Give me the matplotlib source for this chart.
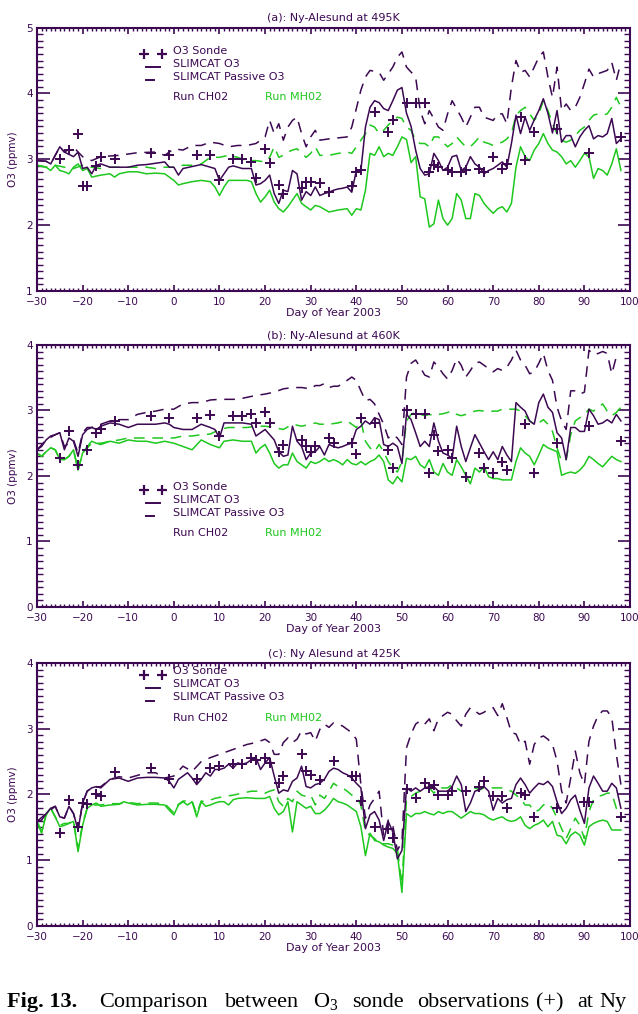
import matplotlib
matplotlib.use('Agg')
import matplotlib.pyplot as plt
from matplotlib.ticker import MultipleLocator

plt.rcParams['font.family'] = 'DejaVu Sans'
plt.rcParams['mathtext.fontset'] = 'custom'
plt.rcParams['mathtext.rm'] = 'Liberation Serif'

PURPLE = '#3c0852'
GREEN = '#1ec81e'
TAIL = list(range(32, 99))

#---------------------------------------------
# Panel (a): Ny-Alesund at 495K
#---------------------------------------------
a_ch_o3_day = [-30, -28, -27, -25, -24, -22, -21, -20, -19, -18, -17, -16, -14, -12, -10, -8, -6, -4, -2, -1,
               0, 1, 2, 4, 6, 8, 9, 10, 11, 12, 13, 15, 17, 18, 19, 20, 21, 22, 23, 24, 25, 26, 27, 28, 29,
               30, 31] + TAIL
a_ch_o3 = [2.98, 2.97, 2.93, 3.19, 3.11, 3.04, 3.11, 2.86, 2.88, 2.78, 2.91, 2.93, 2.88, 2.88, 2.88,
           2.91, 2.92, 2.94, 2.96, 2.88, 2.88, 2.76, 2.86, 2.89, 2.92, 2.88, 2.86, 2.68, 2.78, 2.88,
           2.9, 2.86, 2.86, 2.61, 2.63, 2.68, 2.76, 2.48, 2.33, 2.53, 2.51, 2.83, 2.78, 2.38, 2.51,
           2.45, 2.58,
           2.45, 2.48, 2.5, 2.53, 2.55, 2.56, 2.58, 2.5, 2.83, 2.83, 3.49, 3.79, 3.89, 3.86, 3.77,
           3.74, 3.89, 4.05, 4.09, 3.7, 3.5, 3.14, 2.86, 2.76, 2.78, 3.09, 2.98, 2.83, 2.88, 3.04,
           3.06, 2.83, 2.88, 3.04, 2.93, 2.88, 2.78, 2.83, 2.86, 2.91, 2.96, 2.88, 3.24, 3.67, 3.39,
           3.64, 3.44, 3.6, 3.74, 3.92, 3.7, 3.4, 3.74, 3.26, 3.36, 3.36, 3.19, 3.34, 3.44, 3.51,
           3.31, 3.36, 3.34, 3.39, 3.62, 3.24, 3.31]

a_ch_pas_day = [-30, -28, -27, -25, -24, -22, -21, -20, -18, -16, -12, -8, -4, -2, 0, 2, 4, 6, 8, 10, 12,
                14, 16, 18, 20, 21, 22, 23, 24, 25, 26, 27, 28, 29, 30, 31,
                32, 34, 38, 39, 41, 42, 43, 45, 46, 48, 49, 50, 51, 53, 54, 55, 56, 58, 59, 60, 61, 63,
                64, 66, 67, 68, 70, 71, 72, 73, 74, 75, 76, 77, 78, 80, 81, 82, 83, 84, 85, 86, 87, 88,
                89, 90, 91, 92, 93, 95, 96, 97, 98]
a_ch_pas = [2.98, 2.97, 2.93, 3.19, 3.11, 3.19, 3.11, 3.04, 2.98, 3.04, 3.06, 3.1, 3.11, 3.06, 3.16,
            3.14, 3.21, 3.21, 3.26, 3.24, 3.19, 3.21, 3.21, 3.24, 3.34, 3.59, 3.39, 3.54, 3.29, 3.49,
            3.59, 3.64, 3.39, 3.19, 3.34, 3.44,
            3.29, 3.31, 3.34, 3.49, 4.05, 4.25, 4.35, 4.32, 4.2, 4.4, 4.55, 4.63, 4.4, 4.25, 3.74,
            3.54, 3.74, 3.49, 3.44, 3.69, 3.89, 3.64, 3.49, 3.79, 3.79, 3.64, 3.59, 3.69, 3.69, 3.54,
            4.1, 4.5, 4.32, 4.35, 4.25, 4.55, 4.63, 4.25, 3.94, 4.4, 3.74, 3.84, 3.74, 3.79, 3.94,
            4.15, 4.37, 4.25, 4.3, 4.35, 4.47, 4.2, 4.47]

a_mh_o3_day = [-30, -28, -27, -26, -25, -24, -23, -22, -21, -20, -19, -18, -16, -14, -13, -12, -10, -8,
               -6, -4, -2, -1, 0, 1, 2, 4, 6, 8, 9, 10, 11, 12, 14, 16, 17, 18, 19, 20, 21, 22, 23, 24,
               25, 26, 27, 28, 29, 30, 31, 32, 34, 36, 38, 39, 40, 41] + list(range(42, 99))
a_mh_o3 = [2.91, 2.88, 2.83, 2.91, 2.83, 2.81, 2.78, 2.88, 2.93, 2.83, 2.86, 2.73, 2.76, 2.78, 2.73,
           2.78, 2.81, 2.81, 2.78, 2.79, 2.78, 2.73, 2.68, 2.61, 2.63, 2.66, 2.68, 2.66, 2.58, 2.45,
           2.58, 2.68, 2.68, 2.68, 2.66, 2.48, 2.35, 2.43, 2.53, 2.35, 2.25, 2.2, 2.28, 2.38, 2.48,
           2.33, 2.28, 2.23, 2.3, 2.28, 2.2, 2.23, 2.25, 2.15, 2.25, 2.23,
           2.53, 3.09, 3.06, 3.19, 3.04, 3.09, 3.06, 3.19, 3.34, 3.3, 2.95, 3.04, 2.43, 2.4, 1.97,
           2.02, 2.38, 2.1, 2.0, 2.1, 2.48, 2.38, 2.1, 2.1, 2.48, 2.45, 2.33, 2.25, 2.18, 2.25,
           2.28, 2.2, 2.33, 2.88, 3.19, 3.04, 2.98, 3.14, 3.24, 3.39, 3.24, 3.14, 3.11, 3.04, 2.93,
           2.98, 2.88, 2.98, 3.09, 3.04, 2.71, 2.86, 2.83, 2.76, 2.93, 3.16, 2.83]

a_mh_pas_day = [-30, -28, -26, -24, -22, -20, -18, -16, -14, -10, -6, -4, -2, 0, 2, 4, 6, 8, 10, 12, 14,
                16, 18, 20, 21, 22, 23, 24, 25, 26, 27, 28, 29, 30, 31, 32, 34, 36, 38, 39] + list(range(41, 99))
a_mh_pas = [2.91, 2.88, 2.91, 2.88, 2.86, 2.91, 2.88, 2.86, 2.88, 2.88, 2.88, 2.86, 2.88, 2.88, 2.91,
            2.91, 2.93, 3.03, 3.03, 3.06, 3.03, 2.98, 2.98, 2.96, 3.03, 3.19, 3.03, 3.06, 3.11, 3.14,
            3.16, 3.09, 3.03, 3.09, 3.19, 3.06, 3.06, 3.09, 3.11, 3.09,
            3.29, 3.39, 3.52, 3.49, 3.39, 3.44, 3.52, 3.59, 3.64, 3.62, 3.49, 3.44, 3.29, 3.24, 3.24,
            3.19, 3.34, 3.34, 3.26, 3.19, 3.24, 3.34, 3.26, 3.19, 3.19, 3.26, 3.34, 3.26, 3.24, 3.21,
            3.24, 3.26, 3.31, 3.39, 3.67, 3.74, 3.79, 3.69, 3.59, 3.69, 3.89, 3.74, 3.54, 3.39, 3.29,
            3.26, 3.29, 3.36, 3.44, 3.49, 3.59, 3.67, 3.69, 3.67, 3.69, 3.79, 3.94, 3.79]

a_sonde_day = [-25, -23, -21, -20, -19, -17, -16, -13, -5, -1, 5, 8, 10, 13, 15, 17, 18, 20, 21, 23, 24,
               28, 29, 30, 32, 34, 39, 40, 41, 44, 47, 48, 51, 53, 55, 56, 57, 58, 60, 61, 63, 64, 67,
               68, 70, 72, 73, 76, 77, 79, 84, 91, 98]
a_sonde = [3.0, 3.14, 3.39, 2.6, 2.6, 2.9, 3.03, 3.0, 3.1, 3.06, 3.06, 3.06, 2.68, 3.01, 3.01, 2.96,
           2.71, 3.16, 2.95, 2.61, 2.48, 2.56, 2.66, 2.65, 2.64, 2.5, 2.6, 2.81, 2.83, 3.72, 3.41,
           3.59, 3.85, 3.85, 3.85, 2.81, 2.91, 2.88, 2.83, 2.81, 2.81, 2.83, 2.86, 2.81, 3.04, 2.86,
           2.93, 3.64, 2.99, 3.41, 3.46, 3.1, 3.34]

#---------------------------------------------
# Panel (b): Ny-Alesund at 460K
#---------------------------------------------
b_ch_o3_day = list(range(-30, -15)) + [-14, -12, -10, -8, -6, -4, -2, -1, 0, 2, 4, 6, 8, 9, 10, 11, 13,
                                       15, 17, 18, 19, 20, 21, 22, 23, 24, 25, 26, 27, 28, 29, 30, 31] + TAIL
b_ch_o3 = [2.4, 2.45, 2.55, 2.61, 2.63, 2.66, 2.4, 2.58, 2.53, 2.3, 2.63, 2.71, 2.74, 2.71, 2.76,
           2.81, 2.79, 2.74, 2.79, 2.79, 2.79, 2.81, 2.79, 2.74, 2.71, 2.71, 2.79, 2.74, 2.71, 2.58,
           2.81, 2.81, 2.81, 2.79, 2.61, 2.66, 2.71, 2.63, 2.55, 2.37, 2.3, 2.32, 2.76, 2.53, 2.45,
           2.25, 2.35, 2.37,
           2.45, 2.32, 2.48, 2.45, 2.43, 2.45, 2.48, 2.5, 2.71, 2.76, 2.84, 2.79, 2.89, 2.86, 2.48,
           2.45, 2.5, 2.45, 2.19, 2.94, 2.86, 2.66, 2.45, 2.53, 2.45, 2.81, 2.53, 2.35, 2.32, 2.27,
           2.76, 2.45, 2.22, 2.43, 2.63, 2.5, 2.37, 2.25, 2.37, 2.25, 2.45, 2.32, 2.22, 3.12, 3.05,
           2.99, 2.84, 2.79, 3.12, 3.25, 3.05, 2.97, 2.66, 2.58, 2.25, 2.74, 2.74, 2.68, 2.68, 3.02,
           2.92, 2.79, 2.81, 2.86, 2.81, 2.94, 2.84]

b_ch_pas_day = [-30, -28, -26, -25, -24, -22, -21, -20, -19, -18, -16, -14, -12, -10, -8, -6, -4, -2, 0,
                2, 4, 6, 8, 10, 12, 14, 16, 18, 20, 22, 24, 26, 28, 30, 31] + TAIL
b_ch_pas = [2.4, 2.55, 2.63, 2.66, 2.45, 2.55, 2.35, 2.66, 2.74, 2.74, 2.79, 2.84, 2.86, 2.86, 2.94,
            2.97, 2.99, 3.02, 3.02, 3.1, 3.12, 3.12, 3.16, 3.17, 3.17, 3.17, 3.2, 3.23, 3.25, 3.28,
            3.33, 3.35, 3.35, 3.33, 3.38,
            3.38, 3.41, 3.35, 3.37, 3.37, 3.41, 3.46, 3.51, 3.46, 3.3, 3.15, 3.17, 3.1, 2.94, 2.79,
            2.58, 2.63, 2.58, 2.48, 3.51, 3.72, 3.77, 3.66, 3.54, 3.51, 3.74, 3.66, 3.56, 3.48, 3.61,
            3.79, 3.69, 3.51, 3.61, 3.72, 3.74, 3.69, 3.64, 3.59, 3.64, 3.61, 3.66, 3.77, 3.92, 3.77,
            3.69, 3.56, 3.59, 3.72, 3.87, 3.61, 3.46, 3.05, 2.84, 2.71, 3.3, 3.3, 3.25, 3.28, 3.92,
            3.85, 3.87, 3.9, 3.87, 3.56, 3.82, 3.85]

b_mh_o3_day = list(range(-30, -15)) + [-14, -12, -10, -8, -6, -4, -2, 0, 2, 4, 6, 8, 10, 11, 13, 15, 17,
                                       18, 19, 20, 21, 22, 23, 24, 25, 26, 27, 28, 29, 30, 31] + TAIL
b_mh_o3 = [2.35, 2.3, 2.37, 2.43, 2.4, 2.25, 2.25, 2.3, 2.4, 2.09, 2.35, 2.45, 2.53, 2.5, 2.48,
           2.53, 2.5, 2.55, 2.53, 2.53, 2.5, 2.53, 2.5, 2.45, 2.4, 2.55, 2.48, 2.43, 2.53, 2.55,
           2.53, 2.53, 2.35, 2.43, 2.48, 2.35, 2.19, 2.12, 2.17, 2.17, 2.35, 2.22, 2.17, 2.12, 2.22,
           2.19,
           2.22, 2.27, 2.22, 2.25, 2.22, 2.17, 2.25, 2.19, 2.17, 2.22, 2.17, 2.22, 2.25, 2.32, 2.22,
           1.94, 1.88, 1.99, 1.91, 2.27, 2.25, 2.3, 2.17, 2.12, 2.25, 2.06, 2.01, 2.19, 2.06, 2.01,
           2.25, 2.14, 2.01, 1.88, 2.12, 2.06, 2.14, 1.99, 1.96, 1.96, 1.94, 1.94, 1.94, 2.22, 2.43,
           2.35, 2.3, 2.17, 2.32, 2.48, 2.43, 2.4, 2.37, 2.01, 2.04, 2.06, 2.04, 2.09, 2.17, 2.3,
           2.25, 2.19, 2.14, 2.22, 2.3, 2.25, 2.22]

b_mh_pas_day = list(range(-30, -20)) + [-20, -18, -16, -14, -12, -10, -5, 0, 2, 4, 6, 8, 10, 12, 14, 16,
                                        18, 20, 22, 24, 26, 28, 30, 31] + TAIL
b_mh_pas = [2.35, 2.3, 2.37, 2.43, 2.4, 2.25, 2.25, 2.3, 2.4, 2.09, 2.35, 2.5, 2.5, 2.53, 2.55,
            2.58, 2.58, 2.58, 2.61, 2.61, 2.63, 2.64, 2.71, 2.74, 2.74, 2.74, 2.76, 2.76, 2.74, 2.71,
            2.79, 2.76, 2.79, 2.81,
            2.79, 2.79, 2.79, 2.8, 2.81, 2.83, 2.84, 2.79, 2.74, 2.84, 2.53, 2.43, 2.37, 2.48, 2.37,
            2.22, 2.12, 2.06, 2.22, 2.84, 2.94, 2.97, 2.94, 2.92, 2.94, 2.92, 2.94, 2.95, 2.97, 2.99,
            2.94, 2.92, 2.94, 2.97, 2.99, 3.0, 2.99, 2.98, 2.99, 2.99, 3.02, 3.02, 3.02, 3.02, 2.99,
            2.92, 2.84, 2.79, 2.81, 2.86, 2.79, 2.68, 2.43, 2.22, 2.25, 2.63, 2.84, 2.89, 2.94, 3.02,
            2.99, 3.05, 3.1, 2.99, 2.92, 2.97, 3.05]

b_sonde_day = [-25, -23, -21, -19, -17, -16, -13, -5, -1, 5, 8, 10, 13, 15, 17, 18, 20, 21, 23, 24, 28,
               29, 30, 31, 34, 35, 39, 40, 41, 44, 47, 48, 51, 53, 55, 56, 57, 58, 60, 61, 64, 67, 68,
               70, 72, 73, 77, 79, 84, 91, 98]
b_sonde = [2.28, 2.68, 2.17, 2.4, 2.66, 2.71, 2.84, 2.92, 2.88, 2.88, 2.93, 2.61, 2.92, 2.92, 2.94,
           2.81, 2.97, 2.81, 2.37, 2.48, 2.55, 2.45, 2.37, 2.45, 2.58, 2.5, 2.5, 2.33, 2.89, 2.81,
           2.4, 2.12, 3.0, 2.95, 2.95, 2.05, 2.63, 2.38, 2.4, 2.27, 1.99, 2.35, 2.12, 2.05, 2.22,
           2.09, 2.79, 2.05, 2.5, 2.76, 2.53]

#---------------------------------------------
# Panel (c): Ny Alesund at 425K
#---------------------------------------------
c_ch_o3_day = list(range(-30, -15)) + [-14, -12, -10, -8, -6, -4, -2] + list(range(-1, 99))
c_ch_o3 = [1.59, 1.61, 1.71, 1.79, 1.82, 1.66, 1.64, 1.82, 1.71, 1.46, 1.87, 2.05, 2.1, 2.12, 2.1,
           2.23, 2.25, 2.2, 2.25, 2.26, 2.26, 2.25,
           2.2, 2.1, 2.23, 2.28, 2.33, 2.25, 2.15, 2.23, 2.33, 2.28, 2.38, 2.38, 2.4, 2.46, 2.4,
           2.48, 2.46, 2.48, 2.53, 2.56, 2.38, 2.48, 2.56, 2.28, 2.02, 2.07, 2.05, 2.2, 2.25, 2.43,
           2.12, 2.1, 2.15,
           2.17, 2.23, 2.35, 2.4, 2.38, 2.33, 2.3, 2.25, 2.17, 2.1, 1.48, 1.69, 1.74, 1.61, 1.3,
           1.59, 1.43, 1.02, 1.15, 2.1, 2.05, 2.1, 2.05, 2.1, 2.12, 2.12, 2.05, 2.05, 2.05, 2.12,
           2.28, 2.15, 1.74, 1.87, 2.05, 2.07, 2.12, 2.05, 1.76, 1.94, 1.87, 1.92, 1.94, 2.15, 2.25,
           2.15, 2.02, 2.1, 2.17, 2.15, 2.2, 2.12, 1.89, 1.71, 1.79, 1.92, 1.99, 1.76, 1.56, 2.1,
           2.28, 2.17, 2.05, 2.05, 2.17, 2.1, 1.79]

c_ch_pas_day = [-30, -28, -26, -25, -24, -23, -22, -21, -20, -19, -18, -16, -14, -12, -10, -6, -4, -2, 0,
                2, 4, 6, 8, 10, 12, 14, 16, 18, 20, 21, 22, 23, 24, 25, 26, 27, 28, 29, 30, 31] + TAIL
c_ch_pas = [1.59, 1.71, 1.82, 1.66, 1.64, 1.82, 1.71, 1.46, 1.87, 2.05, 2.1, 2.12, 2.23, 2.27, 2.25,
            2.33, 2.33, 2.25, 2.28, 2.43, 2.35, 2.5, 2.56, 2.61, 2.66, 2.71, 2.76, 2.79, 2.84, 2.79,
            2.61, 2.61, 2.79, 2.86, 2.79, 2.84, 2.97, 2.92, 2.94, 2.81,
            2.99, 3.07, 3.02, 3.09, 3.07, 3.04, 2.99, 2.94, 2.84, 2.15, 1.64, 1.84, 1.94, 2.05, 1.36,
            1.61, 1.53, 1.15, 1.28, 2.71, 2.92, 3.07, 3.12, 3.07, 3.15, 2.97, 3.15, 3.2, 3.25, 3.22,
            3.12, 3.04, 3.22, 3.32, 3.27, 3.22, 3.25, 3.3, 3.32, 3.2, 3.38, 3.17, 2.94, 2.92, 2.76,
            2.81, 2.46, 2.76, 2.86, 2.89, 2.84, 2.76, 2.51, 2.05, 1.87, 2.25, 2.66, 2.33, 2.15, 2.81,
            3.04, 3.2, 3.27, 3.27, 3.17, 2.61, 2.15]

c_mh_o3_day = list(range(-30, -15)) + [-14, -12, -11, -10, -8, -6, -4, -2] + list(range(-1, 15)) + \
              [16, 18, 20] + list(range(21, 99))
c_mh_o3 = [1.59, 1.41, 1.69, 1.79, 1.66, 1.51, 1.53, 1.56, 1.59, 1.13, 1.53, 1.79, 1.84, 1.87, 1.82,
           1.84, 1.85, 1.89, 1.87, 1.84, 1.85, 1.85, 1.84,
           1.76, 1.69, 1.84, 1.89, 1.84, 1.89, 1.66, 1.89, 1.82, 1.84, 1.87, 1.89, 1.89, 1.84, 1.92,
           1.94, 1.95, 1.94, 1.94,
           1.97, 1.79, 1.69, 1.74, 1.89, 1.43, 1.89, 1.84, 1.79, 1.82, 1.71,
           1.71, 1.76, 1.84, 1.94, 1.89, 1.87, 1.84, 1.79, 1.74, 1.51, 1.07, 1.41, 1.3, 1.28, 1.23,
           1.2, 1.18, 1.1, 0.51, 1.71, 1.66, 1.71, 1.71, 1.74, 1.71, 1.69, 1.74, 1.71, 1.74, 1.74,
           1.69, 1.64, 1.69, 1.74, 1.71, 1.71, 1.69, 1.64, 1.61, 1.64, 1.66, 1.61, 1.59, 1.61, 1.66,
           1.53, 1.48, 1.53, 1.56, 1.61, 1.51, 1.59, 1.38, 1.36, 1.25, 1.38, 1.43, 1.38, 1.23, 1.51,
           1.56, 1.59, 1.61, 1.59, 1.46, 1.46, 1.46]

c_mh_pas_day = list(range(-30, -17)) + [-16, -14, -12, -10, -8, -6, -4, -2, -1, 0, 1, 2, 4, 5, 6, 7, 9,
                                        11, 13, 15, 17, 19, 20, 21, 22, 23, 24, 25, 26, 27, 28, 29, 30,
                                        31] + TAIL
c_mh_pas = [1.59, 1.45, 1.69, 1.79, 1.66, 1.53, 1.56, 1.56, 1.61, 1.18, 1.56, 1.79, 1.84,
            1.84, 1.86, 1.86, 1.88, 1.86, 1.87, 1.87, 1.86, 1.79, 1.72, 1.85, 1.9, 1.9, 1.7, 1.9,
            1.89, 1.94, 1.97, 1.99, 2.02, 2.05, 2.05, 2.02, 2.05, 2.07, 1.89, 1.82, 1.94, 1.89, 2.05,
            1.99, 1.97, 1.99, 1.84,
            1.99, 1.94, 2.05, 2.17, 2.12, 2.1, 2.05, 1.99, 1.97, 1.84, 1.43, 1.38, 1.33, 1.25, 1.25,
            1.25, 1.23, 1.18, 0.61, 1.94, 1.97, 2.02, 2.05, 2.07, 2.1, 2.02, 2.1, 2.1, 2.1, 2.15,
            2.1, 2.05, 2.05, 2.07, 2.1, 2.07, 2.1, 2.1, 2.1, 2.1, 2.1, 2.07, 2.05, 1.99, 1.94,
            1.84, 1.84, 1.74, 1.76, 1.84, 1.87, 1.79, 1.64, 1.48, 1.33, 1.48, 1.64, 1.53, 1.33, 1.74,
            1.92, 1.97, 1.99, 2.02, 2.02, 1.79, 1.66]

c_sonde_day = [-25, -23, -21, -20, -19, -17, -16, -13, -5, -1, 5, 8, 10, 13, 15, 17, 18, 20, 21, 23, 24,
               28, 29, 30, 32, 35, 39, 40, 41, 44, 47, 48, 51, 53, 55, 56, 57, 58, 60, 61, 64, 67, 68,
               70, 72, 73, 76, 77, 79, 84, 90, 91, 98]
c_sonde = [1.42, 1.92, 1.51, 1.87, 1.86, 2.0, 1.98, 2.34, 2.41, 2.24, 2.24, 2.4, 2.43, 2.47, 2.47,
           2.56, 2.53, 2.56, 2.48, 2.17, 2.28, 2.62, 2.35, 2.3, 2.22, 2.51, 2.28, 2.28, 1.9, 1.51,
           1.48, 1.34, 2.09, 1.95, 2.17, 2.1, 2.15, 1.99, 1.99, 2.05, 2.05, 2.12, 2.2, 1.97, 1.97,
           1.79, 2.02, 1.99, 1.66, 1.79, 1.89, 1.89, 1.66]

# caption words and their left edges in pixels (justified line)
caption_words = ['Comparison', 'between', 'O$_3$', 'sonde', 'observations', '(+)', 'at', 'Ny']
caption_x = [99, 225, 313, 352, 417, 536, 577, 599]

#---------------------------------------------
# Panel layout (figure fractions) and legend heights
#---------------------------------------------
panels = [
    dict(title='(a): Ny-Alesund at 495K', rect=[0.058, 0.713, 0.9295, 0.2598], ylim=(1, 5),
         legend_y=0.912,
         series=[(a_mh_pas_day, a_mh_pas, GREEN, True), (a_mh_o3_day, a_mh_o3, GREEN, False),
                 (a_ch_pas_day, a_ch_pas, PURPLE, True), (a_ch_o3_day, a_ch_o3, PURPLE, False)],
         sonde=(a_sonde_day, a_sonde)),
    dict(title='(b): Ny-Alesund at 460K', rect=[0.058, 0.4014, 0.9295, 0.2584], ylim=(0, 4),
         legend_y=0.459,
         series=[(b_mh_pas_day, b_mh_pas, GREEN, True), (b_mh_o3_day, b_mh_o3, GREEN, False),
                 (b_ch_pas_day, b_ch_pas, PURPLE, True), (b_ch_o3_day, b_ch_o3, PURPLE, False)],
         sonde=(b_sonde_day, b_sonde)),
    dict(title='(c): Ny Alesund at 425K', rect=[0.058, 0.0868, 0.9295, 0.2594], ylim=(0, 4),
         legend_y=0.968,
         series=[(c_mh_pas_day, c_mh_pas, GREEN, True), (c_mh_o3_day, c_mh_o3, GREEN, False),
                 (c_ch_pas_day, c_ch_pas, PURPLE, True), (c_ch_o3_day, c_ch_o3, PURPLE, False)],
         sonde=(c_sonde_day, c_sonde)),
]

FS = 8


def draw_legend(ax, y0):
    tr = ax.transAxes
    ax.plot([0.180, 0.210], [y0 - 0.012, y0 - 0.012], transform=tr, ls='none', marker='+',
            ms=7, mew=1.6, color=PURPLE, clip_on=False)
    ax.plot([0.183, 0.207], [y0 - 0.062, y0 - 0.062], transform=tr, color=PURPLE, lw=1.4)
    ax.plot([0.184, 0.197], [y0 - 0.112, y0 - 0.112], transform=tr, color=PURPLE, lw=1.4)
    kw = dict(transform=tr, fontsize=FS, color=PURPLE, va='center', ha='left')
    ax.text(0.229, y0, 'O3 Sonde', **kw)
    ax.text(0.229, y0 - 0.049, 'SLIMCAT O3', **kw)
    ax.text(0.229, y0 - 0.099, 'SLIMCAT Passive O3', **kw)
    ax.text(0.229, y0 - 0.176, 'Run CH02', **kw)
    kw['color'] = GREEN
    ax.text(0.384, y0 - 0.176, 'Run MH02', **kw)


fig = plt.figure(figsize=(6.38, 10.14), dpi=100)

for p in panels:
    ax = fig.add_axes(p['rect'])
    for days, vals, color, dashed in p['series']:
        if dashed:
            ax.plot(days, vals, color=color, lw=1.1, dashes=(7, 5))
        else:
            ax.plot(days, vals, color=color, lw=1.1)
    sd, sv = p['sonde']
    ax.plot(sd, sv, ls='none', marker='+', ms=7, mew=1.4, color=PURPLE)

    ax.set_xlim(-30, 100)
    ax.set_ylim(*p['ylim'])
    ax.xaxis.set_major_locator(MultipleLocator(10))
    ax.xaxis.set_minor_locator(MultipleLocator(1))
    ax.yaxis.set_major_locator(MultipleLocator(1))
    ax.yaxis.set_minor_locator(MultipleLocator(0.1))
    ax.tick_params(axis='both', which='both', direction='in', top=True, right=True,
                   color=PURPLE, labelcolor=PURPLE, labelsize=7.5)
    ax.tick_params(axis='x', which='major', length=4, width=1.2, pad=4)
    ax.tick_params(axis='x', which='minor', length=2, width=1.0)
    ax.tick_params(axis='y', which='major', length=9, width=1.2, pad=3)
    ax.tick_params(axis='y', which='minor', length=4, width=1.0)
    for s in ax.spines.values():
        s.set_color(PURPLE)
        s.set_linewidth(1.5)

    ax.text(0.5, 1.035, p['title'], transform=ax.transAxes, ha='center', va='center',
            fontsize=FS, color=PURPLE)
    ax.text(0.5, -0.083, 'Day of Year 2003', transform=ax.transAxes, ha='center', va='center',
            fontsize=FS, color=PURPLE)
    ax.text(-0.04, 0.5, 'O3 (ppmv)', transform=ax.transAxes, ha='center', va='center',
            rotation=90, fontsize=7.5, color=PURPLE)
    draw_legend(ax, p['legend_y'])

fig.text(7 / 638, 7 / 1014, 'Fig. 13.', fontsize=16, fontweight='bold', family='Liberation Serif',
         va='baseline', ha='left')
for word, px in zip(caption_words, caption_x):
    fig.text(px / 638, 7 / 1014, word, fontsize=16, family='Liberation Serif',
             va='baseline', ha='left')

fig.savefig('out.png', dpi=100)
